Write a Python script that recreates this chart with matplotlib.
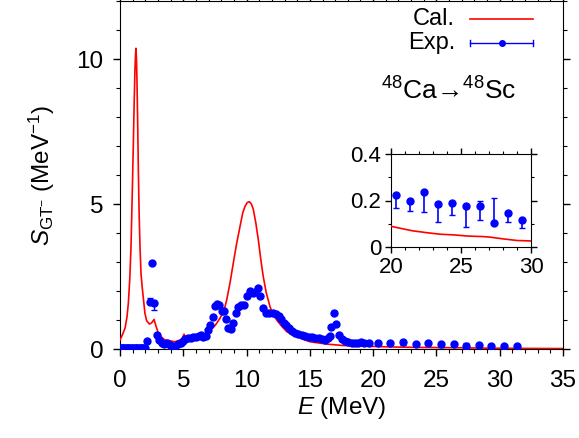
import numpy as np
import matplotlib
matplotlib.use("Agg")
import matplotlib.pyplot as plt
from matplotlib.ticker import MultipleLocator

plt.rcParams['font.family'] = ['Liberation Sans', 'DejaVu Sans']
plt.rcParams['mathtext.fontset'] = 'custom'
plt.rcParams['mathtext.rm'] = 'Liberation Sans'
plt.rcParams['mathtext.it'] = 'Liberation Sans:italic'
plt.rcParams['mathtext.bf'] = 'Liberation Sans:bold'

# calculated strength (red line)
cal_x = [0.0, 0.2, 0.4, 0.55, 0.66, 0.77, 0.87, 0.96, 1.05, 1.12, 1.18, 1.22, 1.26,
         1.3, 1.34, 1.39, 1.45, 1.51, 1.58, 1.66, 1.76, 1.86, 1.97, 2.1, 2.32, 2.5,
         2.69, 2.85, 3.03, 3.3, 3.55, 3.82, 4.34, 4.87, 5.06, 5.19, 5.66, 6.19, 6.71,
         7.1, 7.5, 7.9, 8.2, 8.43, 8.7, 8.95, 9.2, 9.48, 9.7, 9.87, 10.05, 10.22,
         10.38, 10.53, 10.73, 10.93, 11.12, 11.32, 11.55, 11.85, 12.1, 12.38, 12.75,
         13.17, 13.55, 13.96, 14.5, 15.0, 16.33, 17.64, 19.0, 20.0, 21.5, 22.5, 23.5,
         24.5, 25.5, 26.5, 27.0, 28.0, 29.0, 30.0, 32.0, 35.0]
cal_y = [0.31, 0.5, 0.72, 1.1, 1.58, 2.4, 3.53, 5.2, 6.98, 8.5, 9.6, 10.1, 10.37,
         10.0, 9.27, 8.0, 6.17, 4.7, 3.53, 2.6, 2.1, 1.69, 1.23, 0.98, 0.86, 0.9,
         1.02, 0.78, 0.54, 0.4, 0.31, 0.29, 0.25, 0.33, 0.51, 0.38, 0.34, 0.37, 0.46,
         0.68, 0.8, 1.06, 1.3, 1.69, 2.3, 2.96, 3.6, 4.22, 4.7, 4.91, 5.05, 5.08,
         5.0, 4.82, 4.35, 3.76, 3.1, 2.49, 1.95, 1.46, 1.2, 1.0, 0.8,
         0.6, 0.5, 0.43, 0.33, 0.25, 0.17, 0.12, 0.1, 0.089, 0.07, 0.062, 0.055,
         0.052, 0.047, 0.045, 0.043, 0.035, 0.028, 0.026, 0.02, 0.015]

# experimental strength (blue points)
exp_x = [0.05, 0.15, 0.25, 0.35, 0.45, 0.55, 0.65, 0.75, 0.85, 0.95, 1.05, 1.15,
         1.25, 1.35, 1.45, 1.55, 1.65, 1.75, 1.85, 1.95,
         2.1, 2.37, 2.53, 2.71, 2.9, 3.1, 3.3, 3.5, 3.75, 3.92, 4.12, 4.35, 4.57,
         4.78, 5.0, 5.17, 5.38, 5.6, 5.8, 6.02, 6.24, 6.42, 6.55, 6.76, 6.94, 7.12,
         7.33, 7.5, 7.68, 7.82, 8.03, 8.2, 8.35, 8.5, 8.75, 8.96, 9.15, 9.34, 9.56,
         9.82, 10.0, 10.27, 10.52, 10.68, 10.9, 11.1, 11.32, 11.53, 11.8, 12.05,
         12.3, 12.53, 12.72, 12.93, 13.14, 13.33, 13.6, 13.85, 14.1, 14.38, 14.64,
         14.9, 15.16, 15.43, 15.7, 15.96, 16.22, 16.4, 16.58, 16.7, 16.9, 17.1,
         17.3, 17.5, 17.77, 18.03, 18.3, 18.57, 18.8, 19.08, 19.3, 19.68,
         20.35, 21.35, 22.35, 23.35, 24.35, 25.35, 26.35, 27.35, 28.35, 29.35,
         30.35, 31.35]
exp_y = [0.03, 0.03, 0.04, 0.04, 0.05, 0.05, 0.04, 0.03, 0.02, 0.02, 0.02, 0.02,
         0.02, 0.02, 0.02, 0.02, 0.02, 0.03, 0.03, 0.03,
         0.29, 1.63, 2.95, 1.57, 0.48, 0.31, 0.22, 0.18, 0.22, 0.14, 0.12, 0.11, 0.17,
         0.22, 0.28, 0.34, 0.37, 0.38, 0.40, 0.41, 0.45, 0.47, 0.41, 0.45, 0.66, 0.84,
         1.1, 1.5, 1.55, 1.53, 1.3, 1.3, 1.02, 0.71, 0.68, 0.89, 1.23, 1.46, 1.52,
         1.52, 1.83, 2.01, 1.93, 1.95, 2.09, 1.83, 1.4, 1.25, 1.23, 1.23,
         1.2, 1.13, 1.02, 0.9, 0.83, 0.71, 0.63, 0.56, 0.51, 0.48, 0.44,
         0.40, 0.40, 0.37, 0.37, 0.33, 0.31, 0.37, 0.45, 0.75, 1.23, 0.86,
         0.48, 0.33, 0.28, 0.25, 0.21, 0.21, 0.22, 0.25, 0.22, 0.21,
         0.222, 0.196, 0.236, 0.186, 0.19, 0.178, 0.178, 0.103, 0.146, 0.115,
         0.12, 0.09]
# visible error bars (lower, upper) by point energy; the rest are hidden by the marker
err_lo_known = {2.37: 0.05, 2.53: 0.06, 2.71: 0.23,
                20.35: 0.054, 21.35: 0.04, 22.35: 0.084, 23.35: 0.078, 24.35: 0.054,
                25.35: 0.092, 26.35: 0.061, 27.35: 0.0, 28.35: 0.038, 29.35: 0.032,
                30.35: 0.03}
err_hi_known = {2.37: 0.12, 2.53: 0.06, 2.71: 0.05,
                20.35: 0.006, 21.35: 0.004, 22.35: 0.006, 23.35: 0.004, 24.35: 0.004,
                25.35: 0.004, 26.35: 0.021, 27.35: 0.108, 28.35: 0.004, 29.35: 0.004}
exp_err_lo = [err_lo_known.get(x, 0.0) for x in exp_x]
exp_err_hi = [err_hi_known.get(x, 0.0) for x in exp_x]

red = '#ff0000'
blue = '#0000ff'

fig = plt.figure(figsize=(5.79, 4.38), dpi=100)
ax = fig.add_axes([120 / 579, 1 - 349 / 438, 443 / 579, 348 / 438])

ax.plot(cal_x, cal_y, color=red, lw=1.2, zorder=3)
ax.errorbar(exp_x, exp_y, yerr=[exp_err_lo, exp_err_hi], fmt='o', color=blue,
            ms=5, capsize=2.5, elinewidth=1, capthick=1, zorder=4)

ax.set_xlim(0, 35)
ax.set_ylim(0, 12)
ax.xaxis.set_major_locator(MultipleLocator(5))
ax.xaxis.set_minor_locator(MultipleLocator(1))
ax.yaxis.set_major_locator(MultipleLocator(5))
ax.yaxis.set_minor_locator(MultipleLocator(1))
ax.tick_params(which='both', direction='out', top=True, right=True, labelsize=17.5)
ax.tick_params(which='major', length=5, width=1)
ax.tick_params(axis='x', which='major', pad=10)
ax.tick_params(axis='y', which='major', pad=7)
ax.tick_params(which='minor', length=3, width=0.8)
ax.set_xlabel(r'$E$ (MeV)', fontsize=17.5, labelpad=2)
ax.set_ylabel(r'$S_{\mathrm{GT}^{-}}$ (MeV$^{-1}$)', fontsize=17.5, labelpad=14)

# legend keys drawn by hand, gnuplot style
ax.text(0.756, 0.948, 'Cal.', transform=ax.transAxes, ha='right', va='center', fontsize=17)
ax.plot([0.79, 0.932], [0.948, 0.948], transform=ax.transAxes, color=red, lw=1.2)
ax.text(0.756, 0.879, 'Exp.', transform=ax.transAxes, ha='right', va='center', fontsize=17)
ax.plot([0.79, 0.932], [0.879, 0.879], transform=ax.transAxes, color=blue, lw=1)
ax.plot([0.79, 0.79], [0.871, 0.887], transform=ax.transAxes, color=blue, lw=1)
ax.plot([0.932, 0.932], [0.871, 0.887], transform=ax.transAxes, color=blue, lw=1)
ax.plot([0.862], [0.879], 'o', transform=ax.transAxes, color=blue, ms=4)
ax.text(0.7415, 0.718, '$^{48}$Ca\u2192$^{48}$Sc', transform=ax.transAxes,
        ha='center', va='baseline', fontsize=19)

# inset 20-30 MeV
axin = fig.add_axes([391 / 579, 1 - 247 / 438, 140 / 579, 93 / 438])
axin.plot(cal_x, cal_y, color=red, lw=1.2, zorder=3)
axin.errorbar(exp_x, exp_y, yerr=[exp_err_lo, exp_err_hi], fmt='o', color=blue,
              ms=5, capsize=2.5, elinewidth=1.2, capthick=1, zorder=4)
axin.set_xlim(20, 30)
axin.set_ylim(0, 0.4)
axin.xaxis.set_major_locator(MultipleLocator(5))
axin.xaxis.set_minor_locator(MultipleLocator(1))
axin.yaxis.set_major_locator(MultipleLocator(0.2))
axin.yaxis.set_minor_locator(MultipleLocator(0.1))
axin.yaxis.set_major_formatter(lambda v, p: '0' if v == 0 else f'{v:.1f}')
axin.tick_params(which='both', direction='out', top=True, right=True, labelsize=16)
axin.tick_params(which='major', length=4, width=1, pad=3)
axin.tick_params(which='minor', length=2.5, width=0.8)

fig.savefig('out.png', dpi=100)
